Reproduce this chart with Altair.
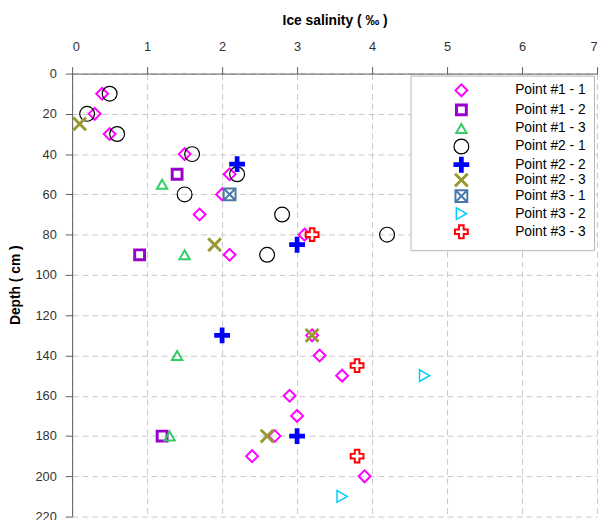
import altair as alt
import pandas as pd

series = ["Point #1 - 1", "Point #1 - 2", "Point #1 - 3",
          "Point #2 - 1", "Point #2 - 2", "Point #2 - 3",
          "Point #3 - 1", "Point #3 - 2", "Point #3 - 3"]

p11_sal = [0.4, 0.3, 0.5, 1.5, 2.1, 2.0, 1.7, 3.1, 2.1, 3.2, 3.3, 3.6, 2.9, 3.0, 2.7, 2.4, 3.9]
p11_dep = [10, 20, 30, 40, 50, 60, 70, 80, 90, 130, 140, 150, 160, 170, 180, 190, 200]
p12_sal = [1.4, 0.9, 1.2]
p12_dep = [50, 90, 180]
p13_sal = [1.2, 1.5, 1.4, 1.3]
p13_dep = [55, 90, 140, 180]
p21_sal = [0.5, 0.2, 0.6, 1.6, 2.2, 1.5, 2.8, 4.2, 2.6]
p21_dep = [10, 20, 30, 40, 50, 60, 70, 80, 90]
p22_sal = [2.2, 3.0, 2.0, 3.0]
p22_dep = [45, 85, 130, 180]
p23_sal = [0.1, 1.9, 3.2, 2.6]
p23_dep = [25, 85, 130, 180]
p31_sal = [2.1]
p31_dep = [60]
p32_sal = [4.7, 3.6]
p32_dep = [150, 210]
p33_sal = [3.2, 3.8, 3.8]
p33_dep = [80, 145, 190]

x_ticks = [0, 1, 2, 3, 4, 5, 6, 7]
y_ticks = [0, 20, 40, 60, 80, 100, 120, 140, 160, 180, 200, 220]

all_sal = [p11_sal, p12_sal, p13_sal, p21_sal, p22_sal, p23_sal, p31_sal, p32_sal, p33_sal]
all_dep = [p11_dep, p12_dep, p13_dep, p21_dep, p22_dep, p23_dep, p31_dep, p32_dep, p33_dep]

rows = []
for name, sal, dep in zip(series, all_sal, all_dep):
    for s, d in zip(sal, dep):
        rows.append({"series": name, "salinity": s, "depth": d})
df = pd.DataFrame(rows)

plus_path = "M-0.3,-1H0.3V-0.3H1V0.3H0.3V1H-0.3V0.3H-1V-0.3H-0.3Z"
x_path = ("M-1,-0.72L-0.72,-1L0,-0.28L0.72,-1L1,-0.72L0.28,0L1,0.72L0.72,1"
          "L0,0.28L-0.72,1L-1,0.72L-0.28,0Z")
boxx_path = "M-1,-1L1,-1L1,1L-1,1Z M-1,-1L1,1 M1,-1L-1,1"
cross_path = "M-0.36,-1H0.36V-0.36H1V0.36H0.36V1H-0.36V0.36H-1V-0.36H-0.36Z"

shapes = ["diamond", "square", "triangle-up", "circle", plus_path, x_path,
          boxx_path, "triangle-right", cross_path]
strokes = ["#FF00FF", "#9900CC", "#33CC66", "#000000", "#0000FF", "#999933",
           "#4A78A8", "#00CCFF", "#FF0000"]
fills = ["transparent", "transparent", "transparent", "transparent", "#0000FF",
         "#999933", "#FFFFFF", "transparent", "#FFFFFF"]
sizes = [144, 100, 110, 225, 256, 225, 144, 140, 169]
widths = [2, 3, 2, 1.2, 0, 0, 2, 1.5, 2]

font = "Liberation Sans"

chart = alt.Chart(df).mark_point(opacity=1, filled=False).encode(
    x=alt.X("salinity:Q",
            scale=alt.Scale(domain=[0, 7], nice=False, zero=False),
            axis=alt.Axis(orient="top", values=x_ticks, title="Ice salinity ( ‰ )",
                          format="d", labelPadding=13, titlePadding=14)),
    y=alt.Y("depth:Q",
            scale=alt.Scale(domain=[0, 220], reverse=True, nice=False),
            axis=alt.Axis(orient="left", values=y_ticks, title="Depth ( cm )",
                          format="d", titleX=-50, titleY=214)),
    shape=alt.Shape("series:N", scale=alt.Scale(domain=series, range=shapes), title=None),
    stroke=alt.Stroke("series:N", scale=alt.Scale(domain=series, range=strokes), title=None),
    fill=alt.Fill("series:N", scale=alt.Scale(domain=series, range=fills), title=None),
    size=alt.Size("series:N", scale=alt.Scale(type="ordinal", domain=series, range=sizes), title=None),
    strokeWidth=alt.StrokeWidth("series:N", scale=alt.Scale(type="ordinal", domain=series, range=widths), title=None),
    order=alt.Order("idx:Q"),
).transform_window(idx="row_number()").properties(
    width=532, height=449,
    autosize=alt.AutoSizeParams(type="none"),
    padding={"left": 65, "top": 63, "right": 3, "bottom": 0},
).configure_view(stroke=None).configure_axis(
    labelFont=font, labelFontSize=13, labelColor="#333333",
    titleFont=font, titleFontSize=14, titleFontWeight="bold", titleColor="#000000",
    domainColor="#5A5A5A", tickColor="#5A5A5A", tickSize=7, labelPadding=9,
    gridColor="#C8C8C8", gridDash=[6, 4], grid=True,
).configure_legend(
    orient="none", legendX=343, legendY=2, padding=8,
    fillColor="#FFFFFF", strokeColor="#B4B4B4",
    symbolOffset=35, labelOffset=46, rowPadding=-1.2,
    labelFont=font, labelFontSize=14, labelColor="#000000",
)

chart.save("out.html", embed_options={"renderer": "svg", "actions": False})
